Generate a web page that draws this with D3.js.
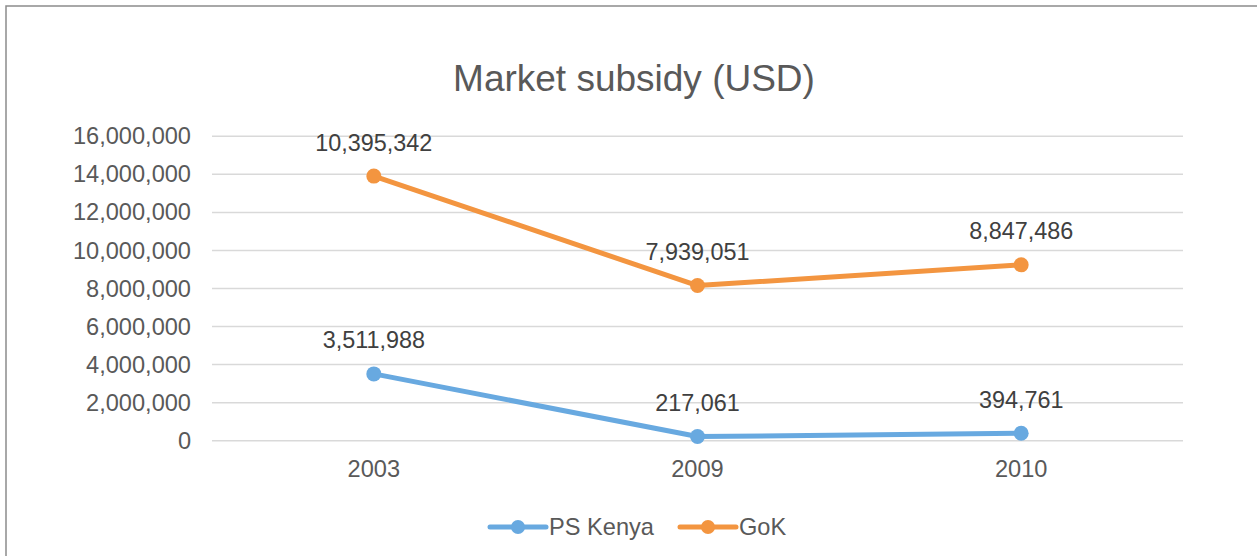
<!DOCTYPE html>
<html>
<head>
<meta charset="utf-8">
<script src="https://cdn.jsdelivr.net/npm/d3@7"></script>
<style>
  html, body { margin: 0; padding: 0; background: #fff; }
  svg { display: block; font-family: "Liberation Sans", Arial, sans-serif; }
</style>
</head>
<body>
<script>
// chart data
const years = ["2003", "2009", "2010"];
const psKenya = [3511988, 217061, 394761];
const gok = [10395342, 7939051, 8847486];
const seriesNames = ["PS Kenya", "GoK"];
const seriesColors = ["#68a9e0", "#f39540"];
const yTicks = [0, 2000000, 4000000, 6000000, 8000000, 10000000, 12000000, 14000000, 16000000];

const w = 1257;
const h = 556;
const svg = d3.select("body").append("svg")
  .attr("width", w)
  .attr("height", h)
  .attr("viewBox", [0, 0, w, h]);

// chart border (runs off right and bottom edge like the source)
svg.append("rect")
  .attr("x", 6).attr("y", 6)
  .attr("width", w + 10).attr("height", h + 10)
  .attr("fill", "#fff")
  .attr("stroke", "#8c8c8c")
  .attr("stroke-width", 1.5);

// plot area
const margin = {top: 136.3, right: 74, bottom: 115.3, left: 212};
const innerW = w - margin.left - margin.right;
const innerH = h - margin.top - margin.bottom;

const g = svg.append("g")
  .attr("transform", "translate(" + margin.left + "," + margin.top + ")");

const xScale = d3.scaleBand().domain(years).range([0, innerW]);
const yScale = d3.scaleLinear().domain([0, 16000000]).range([innerH, 0]);
const fmt = d3.format(",");

// stacked line chart: GoK sits on top of PS Kenya
const table = years.map((yr, i) => ({year: yr, "PS Kenya": psKenya[i], "GoK": gok[i]}));
const stacked = d3.stack().keys(seriesNames)(table);

// gridlines
g.append("g")
  .selectAll("line")
  .data(yTicks)
  .join("line")
  .attr("x1", 0).attr("x2", innerW)
  .attr("y1", d => yScale(d)).attr("y2", d => yScale(d))
  .attr("stroke", "#d9d9d9")
  .attr("stroke-width", 1.5);

// y axis labels
const yAxis = d3.axisLeft(yScale).tickValues(yTicks).tickFormat(fmt).tickSize(0).tickPadding(21);
const yAxisG = g.append("g").call(yAxis);
yAxisG.select(".domain").remove();
yAxisG.selectAll("text")
  .attr("font-size", 23.6)
  .attr("font-family", "Liberation Sans, Arial, sans-serif")
  .attr("fill", "#595959");

// x axis labels
const xAxis = d3.axisBottom(xScale).tickSize(0).tickPadding(20);
const xAxisG = g.append("g")
  .attr("transform", "translate(0," + innerH + ")")
  .call(xAxis);
xAxisG.select(".domain").remove();
xAxisG.selectAll("text")
  .attr("font-size", 23.6)
  .attr("font-family", "Liberation Sans, Arial, sans-serif")
  .attr("fill", "#595959");

const cx = d => xScale(d.data.year) + xScale.bandwidth() / 2;
const line = d3.line().x(cx).y(d => yScale(d[1]));

stacked.forEach((s, si) => {
  const color = seriesColors[si];
  const raw = si === 0 ? psKenya : gok;
  g.append("path")
    .datum(s)
    .attr("d", line)
    .attr("fill", "none")
    .attr("stroke", color)
    .attr("stroke-width", 5)
    .attr("stroke-linecap", "round")
    .attr("stroke-linejoin", "round");

  g.selectAll(".pt" + si)
    .data(s)
    .join("circle")
    .attr("cx", cx)
    .attr("cy", d => yScale(d[1]))
    .attr("r", 7.5)
    .attr("fill", color);

  g.selectAll(".lbl" + si)
    .data(s)
    .join("text")
    .attr("x", cx)
    .attr("y", d => yScale(d[1]) - 25.5)
    .attr("text-anchor", "middle")
    .attr("font-size", 23.4)
    .attr("fill", "#404040")
    .text((d, i) => fmt(raw[i]));
});

// title
svg.append("text")
  .attr("x", 634)
  .attr("y", 91)
  .attr("text-anchor", "middle")
  .attr("font-size", 37)
  .attr("fill", "#595959")
  .text("Market subsidy (USD)");

// legend
const legendX = [490, 680];
const legend = svg.append("g")
  .selectAll("g")
  .data(seriesNames)
  .join("g")
  .attr("transform", (d, i) => "translate(" + legendX[i] + ",527)");

legend.append("line")
  .attr("x1", 0).attr("x2", 56)
  .attr("stroke", (d, i) => seriesColors[i])
  .attr("stroke-width", 5)
  .attr("stroke-linecap", "round");
legend.append("circle")
  .attr("cx", 28)
  .attr("r", 7)
  .attr("fill", (d, i) => seriesColors[i]);
legend.append("text")
  .attr("x", 59)
  .attr("y", 8)
  .attr("font-size", 23.6)
  .attr("fill", "#595959")
  .text(d => d);
</script>
</body>
</html>
